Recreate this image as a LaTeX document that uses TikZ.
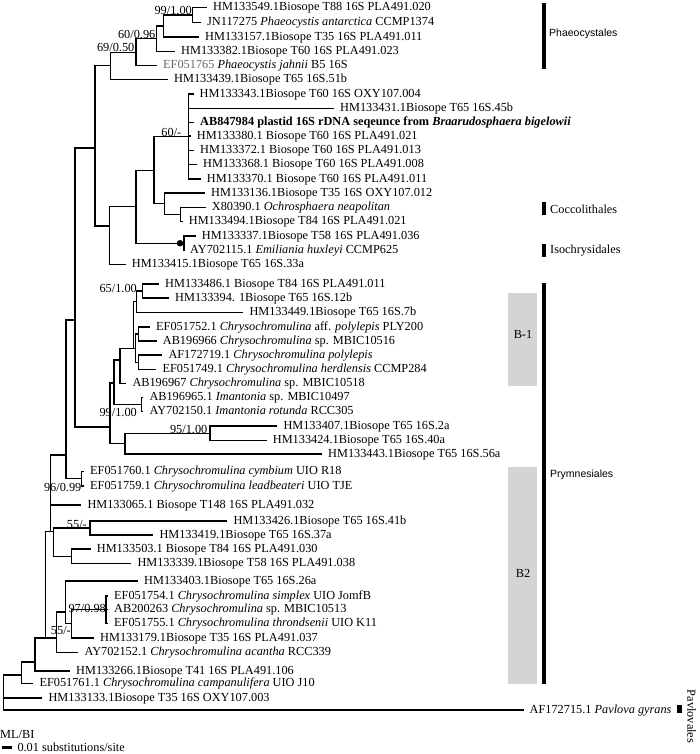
\documentclass[tikz,border=0pt]{standalone}
\usepackage{fontspec}
\setmainfont{Liberation Serif}
\newfontfamily\sansf{Liberation Sans}
\newcommand{\lf}{\fontsize{12.3}{14}\selectfont}
\begin{document}
\begin{tikzpicture}[x=1pt,y=-1pt,
  br/.style={line width=1.1pt},
  leaf/.style={anchor=west, inner xsep=6pt, inner ysep=0pt, text height=0.66em, text depth=0pt, font=\lf},
  sup/.style={anchor=base east, inner sep=0pt, font=\lf},
  clade/.style={anchor=west, inner sep=0pt, font=\lf},
  sclade/.style={anchor=west, inner sep=0pt, font=\sansf\fontsize{10.5}{12}\selectfont},
  bar/.style={fill=black},
  gbox/.style={fill=black!17}
]
\useasboundingbox (0,0) rectangle (700,754);

% internal nodes
\coordinate (A) at (192.5,15);
\coordinate (B) at (163.3,26);
\coordinate (C) at (156.7,38.75);
\coordinate (D) at (136,52.1);
\coordinate (E) at (110.7,65.8);
\coordinate (K) at (188.7,136.5);
\coordinate (M) at (180.7,214.5);
\coordinate (L) at (164.7,203.75);
\coordinate (I) at (154,170.1);
\coordinate (J) at (184,243.25);
\coordinate (H) at (136,206.7);
\coordinate (G) at (109.3,226);
\coordinate (F) at (95,148);
\coordinate (N65) at (142.3,291);
\coordinate (Y1) at (136.7,301.75);
\coordinate (Z1) at (138.3,334);
\coordinate (Z2) at (138.3,362.25);
\coordinate (Z) at (135.3,348.1);
\coordinate (Y2) at (133.3,348.1);
\coordinate (V) at (120,360);
\coordinate (W) at (141.7,404.5);
\coordinate (R) at (114,383);
\coordinate (U) at (210,433.25);
\coordinate (T) at (125,443.6);
\coordinate (Q) at (110,427);
\coordinate (P) at (75,320);
\coordinate (N33) at (81.7,478.75);
\coordinate (S) at (66,455);
\coordinate (N55) at (90,528);
\coordinate (N72) at (71.7,556.25);
\coordinate (N4) at (53.3,531.7);
\coordinate (N2) at (50.7,531.7);
\coordinate (PL) at (106,609.5);
\coordinate (N8) at (71.7,623.75);
\coordinate (N7) at (65.7,612);
\coordinate (N5) at (56.7,638);
\coordinate (N3) at (45.7,638);
\coordinate (N6) at (35,662);
\coordinate (R1) at (21.7,675);
\coordinate (R0) at (3.3,698);

% leaves
\node[leaf] (l1) at (207,7.5) {HM133549.1Biosope T88 16S PLA491.020};
\node[leaf] (l2) at (201,22.5) {JN117275 \textit{Phaeocystis antarctica} CCMP1374};
\node[leaf] (l3) at (199,37) {HM133157.1Biosope T35 16S PLA491.011};
\node[leaf] (l4) at (175,51.5) {HM133382.1Biosope T60 16S PLA491.023};
\node[leaf] (l5) at (157,65.5) {\textcolor{black!60}{EF051765} \textit{Phaeocystis jahnii} B5 16S};
\node[leaf] (l6) at (168,79.5) {HM133439.1Biosope T65 16S.51b};
\node[leaf] (l7) at (193.5,94) {HM133343.1Biosope T60 16S OXY107.004};
\node[leaf] (l8) at (334,108.5) {HM133431.1Biosope T65 16S.45b};
\node[leaf] (l9) at (194,122.5) {\textbf{AB847984 plastid 16S rDNA seqeunce from \textit{Braarudosphaera bigelowii}}};
\node[leaf] (l10) at (190.7,136) {HM133380.1 Biosope T60 16S PLA491.021};
\node[leaf] (l11) at (194,150.5) {HM133372.1 Biosope T60 16S PLA491.013};
\node[leaf] (l12) at (197,164.5) {HM133368.1 Biosope T60 16S PLA491.008};
\node[leaf] (l13) at (200.7,179) {HM133370.1 Biosope T60 16S PLA491.011};
\node[leaf] (l14) at (205,193) {HM133136.1Biosope T35 16S OXY107.012};
\node[leaf] (l15) at (205.7,207.5) {X80390.1 \textit{Ochrosphaera neapolitan}};
\node[leaf] (l16) at (182.7,221.5) {HM133494.1Biosope T84 16S PLA491.021};
\node[leaf] (l17) at (195.7,236) {HM133337.1Biosope T58 16S PLA491.036};
\node[leaf] (l18) at (184,250.5) {AY702115.1 \textit{Emiliania huxleyi} CCMP625};
\node[leaf] (l19) at (125.7,264.5) {HM133415.1Biosope T65 16S.33a};
\node[leaf] (l20) at (159,284) {HM133486.1 Biosope T84 16S PLA491.011};
\node[leaf] (l21) at (169,298) {HM133394. 1Biosope T65 16S.12b};
\node[leaf] (l22) at (243.3,312.5) {HM133449.1Biosope T65 16S.7b};
\node[leaf] (l23) at (150,327) {EF051752.1 \textit{Chrysochromulina} aff. \textit{polylepis} PLY200};
\node[leaf] (l24) at (156.7,341) {AB196966 \textit{Chrysochromulina} sp. MBIC10516};
\node[leaf] (l25) at (162.3,355) {AF172719.1 \textit{Chrysochromulina polylepis}};
\node[leaf] (l26) at (156.3,369.5) {EF051749.1 \textit{Chrysochromulina herdlensis} CCMP284};
\node[leaf] (l27) at (126.3,383.5) {AB196967 \textit{Chrysochromulina} sp. MBIC10518};
\node[leaf] (l28) at (143.3,397.5) {AB196965.1 \textit{Imantonia} sp. MBIC10497};
\node[leaf] (l29) at (143.3,411.5) {AY702150.1 \textit{Imantonia rotunda} RCC305};
\node[leaf] (l30) at (277.3,426) {HM133407.1Biosope T65 16S.2a};
\node[leaf] (l31) at (266.7,440.5) {HM133424.1Biosope T65 16S.40a};
\node[leaf] (l32) at (322,454) {HM133443.1Biosope T65 16S.56a};
\node[leaf] (l33) at (84,471.5) {EF051760.1 \textit{Chrysochromulina cymbium} UIO R18};
\node[leaf] (l34) at (84,486) {EF051759.1 \textit{Chrysochromulina leadbeateri} UIO TJE};
\node[leaf] (l35) at (81.3,505) {HM133065.1 Biosope T148 16S PLA491.032};
\node[leaf] (l36) at (227.3,521) {HM133426.1Biosope T65 16S.41b};
\node[leaf] (l37) at (153.3,535) {HM133419.1Biosope T65 16S.37a};
\node[leaf] (l38) at (90.7,549) {HM133503.1 Biosope T84 16S PLA491.030};
\node[leaf] (l39) at (131.3,563.5) {HM133339.1Biosope T58 16S PLA491.038};
\node[leaf] (l40) at (138,581) {HM133403.1Biosope T65 16S.26a};
\node[leaf] (l41) at (108,596) {EF051754.1 \textit{Chrysochromulina simplex} UIO JomfB};
\node[leaf] (l42) at (108,609.5) {AB200263 \textit{Chrysochromulina} sp. MBIC10513};
\node[leaf] (l43) at (108,623.5) {EF051755.1 \textit{Chrysochromulina throndsenii} UIO K11};
\node[leaf] (l44) at (94,638) {HM133179.1Biosope T35 16S PLA491.037};
\node[leaf] (l45) at (78.3,652.5) {AY702152.1 \textit{Chrysochromulina acantha} RCC339};
\node[leaf] (l46) at (70,671) {HM133266.1Biosope T41 16S PLA491.106};
\node[leaf] (l47) at (33.3,683.5) {EF051761.1 \textit{Chrysochromulina campanulifera} UIO J10};
\node[leaf] (l48) at (42.3,698) {HM133133.1Biosope T35 16S OXY107.003};
\node[leaf] (l49) at (523.5,710) {AF172715.1 \textit{Pavlova gyrans}};

% branches
\draw[br] (A) |- (l1.west);  \draw[br] (A) |- (l2.west);
\draw[br] (B) |- (A);        \draw[br] (B) |- (l3.west);
\draw[br] (C) |- (B);        \draw[br] (C) |- (l4.west);
\draw[br] (D) |- (C);        \draw[br] (D) |- (l5.west);
\draw[br] (E) |- (D);        \draw[br] (E) |- (l6.west);
\foreach \k in {7,...,13}{\draw[br] (K) |- (l\k.west);}
\draw[br] (M) |- (l15.west); \draw[br] (M) |- (l16.west);
\draw[br] (L) |- (l14.west); \draw[br] (L) |- (M);
\draw[br] (I) |- (K);        \draw[br] (I) |- (L);
\draw[br] (J) |- (l17.west); \draw[br] (J) |- (l18.west);
\draw[br] (H) |- (I);        \draw[br] (H) |- (J);
\draw[br] (G) |- (H);        \draw[br] (G) |- (l19.west);
\draw[br] (F) |- (E);        \draw[br] (F) |- (G);
\draw[br] (N65) |- (l20.west); \draw[br] (N65) |- (l21.west);
\draw[br] (Y1) |- (N65);     \draw[br] (Y1) |- (l22.west);
\draw[br] (Z1) |- (l23.west); \draw[br] (Z1) |- (l24.west);
\draw[br] (Z2) |- (l25.west); \draw[br] (Z2) |- (l26.west);
\draw[br] (Z) |- (Z1);       \draw[br] (Z) |- (Z2);
\draw[br] (Y2) |- (Y1);      \draw[br] (Y2) |- (Z);
\draw[br] (V) |- (Y2);       \draw[br] (V) |- (l27.west);
\draw[br] (W) |- (l28.west); \draw[br] (W) |- (l29.west);
\draw[br] (R) |- (V);        \draw[br] (R) |- (W);
\draw[br] (U) |- (l30.west); \draw[br] (U) |- (l31.west);
\draw[br] (T) |- (U);        \draw[br] (T) |- (l32.west);
\draw[br] (Q) |- (R);        \draw[br] (Q) |- (T);
\draw[br] (P) |- (F);        \draw[br] (P) |- (Q);
\draw[br] (N33) |- (l33.west); \draw[br] (N33) |- (l34.west);
\draw[br] (S) |- (P);        \draw[br] (S) |- (N33);
\draw[br] (N55) |- (l36.west); \draw[br] (N55) |- (l37.west);
\draw[br] (N72) |- (l38.west); \draw[br] (N72) |- (l39.west);
\draw[br] (N4) |- (N55);     \draw[br] (N4) |- (N72);
\draw[br] (N2) |- (S);       \draw[br] (N2) |- (l35.west); \draw[br] (N2) -- (N4);
\foreach \k in {41,42,43}{\draw[br] (PL) |- (l\k.west);}
\draw[br] (N8) |- (PL);      \draw[br] (N8) |- (l44.west);
\draw[br] (N7) |- (l40.west); \draw[br] (N7) |- (N8);
\draw[br] (N5) |- (N7);      \draw[br] (N5) |- (l45.west);
\draw[br] (N3) |- (N2);      \draw[br] (N3) -- (N5);
\draw[br] (N6) |- (N3);      \draw[br] (N6) |- (l46.west);
\draw[br] (R1) |- (N6);      \draw[br] (R1) |- (l47.west);
\draw[br] (R0) |- (R1);      \draw[br] (R0) |- (l48.west); \draw[br] (R0) |- (l49.west);

% dot
\fill (180,243.25) circle (3.3);

% support values
\node[sup] (s1) at (192,15) {99/1.00};
\node[sup] (s2) at (155.5,38.5) {60/0.96};
\node[sup] (s3) at (134.5,52) {69/0.50};
\node[sup] (s4) at (181.5,137) {60/-};
\node[sup] (s5) at (137,292.5) {65/1.00};
\node[sup] (s6) at (137,416.5) {99/1.00};
\node[sup] (s7) at (207.5,433.5) {95/1.00};
\node[sup] (s8) at (81.5,491) {96/0.99};
\node[sup] (s9) at (87,528) {55/-};
\node[sup] (s10) at (106,612) {97/0.98};
\node[sup] (s11) at (71,634) {55/-};

% clade annotations
\fill[gbox] (508.3,292.7) rectangle (537.3,386);
\fill[gbox] (508.3,467.3) rectangle (537.3,684);
\node[font=\lf, inner sep=0pt] (b1) at (523,334.3) {B-1};
\node[font=\lf, inner sep=0pt] (b2) at (523,573.3) {B2};
\fill[bar] (541.8,3) rectangle (546.2,69);
\fill[bar] (541.8,282.7) rectangle (546.2,684);
\fill[bar] (541.8,201.7) rectangle (546.2,215);
\fill[bar] (541.8,244) rectangle (546.2,257.3);
\fill[bar] (677,705) rectangle (681.5,713.3);
\node[sclade] (c1) at (549,33.3) {Phaeocystales};
\node[clade] (c2) at (550,209.3) {Coccolithales};
\node[clade] (c3) at (550,250.5) {Isochrysidales};
\node[sclade] (c4) at (550,475) {Prymnesiales};
\node[font=\lf, inner sep=0pt, rotate=-90] (c5) at (691.5,716.5) {Pavlovales};

% scale
\node[anchor=west, inner sep=0pt, font=\lf] (ml) at (0,734) {ML/BI};
\coordinate (sb1) at (1.7,747.5);
\coordinate (sb2) at (11.7,747.5);
\draw[line width=2.2pt] (sb1) -- (sb2);
\node[anchor=west, inner sep=0pt, font=\lf] (sc) at (17.3,747.5) {0.01 substitutions/site};
\end{tikzpicture}
\end{document}
